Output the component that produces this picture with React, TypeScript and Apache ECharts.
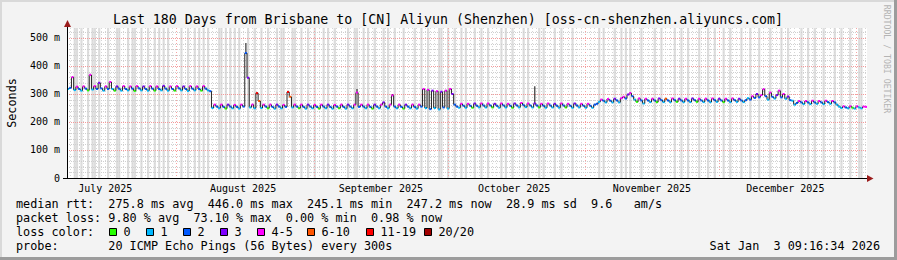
import React, { useEffect, useRef } from 'react';
import * as echarts from 'echarts';

// time axis: days since 2025-07-01 00:00; graph covers the last 180 days up to Sat Jan 3 09:16:34 2026
const T_START = 6.3865;
const SPAN_DAYS = 180;
const STEP_DAYS = 0.5; // 12h consolidation step
const Y_MAX = 535.7;

const LOSS_COLORS = ['#26ff00', '#00b8ff', '#0059ff', '#7e00ff', '#ff00ff', '#ff5500', '#ff0000', '#a10000'];
const LOSS_LABELS = ['0', '1', '2', '3', '4-5', '6-10', '11-19', '20/20'];

const monthStarts = [31, 62, 92, 123, 153, 184];
const monthLabelDays = [15, 46, 77, 107, 138, 168];
const monthLabels = ['July 2025', 'August 2025', 'September 2025', 'October 2025', 'November 2025', 'December 2025'];
const yMajor = [0, 100, 200, 300, 400, 500];
const yMinor = [20, 40, 60, 80, 120, 140, 160, 180, 220, 240, 260, 280, 320, 340, 360, 380, 420, 440, 460, 480, 520];

// median rtt (ms) per 12h step
const julMedian = [318, 322, 360, 314, 326, 318, 312, 327, 319, 313, 368, 316, 328, 318, 340, 320, 312, 327, 318, 343,
  318, 312, 327, 319, 312, 328, 318, 313, 327, 319, 311, 328, 320, 313, 327, 318, 312, 328, 319, 312,
  327, 318, 313, 329, 319, 312, 327, 318, 312, 328, 320, 313, 327, 318, 311, 328, 319, 313, 327, 318,
  312, 328, 319, 313, 310];
const julLoss = [1, 2, 4, 1, 4, 2, 1, 4, 2, 0, 4, 1, 4, 2, 3, 2, 1, 4, 2, 4, 1, 0, 3, 2, 1, 4, 2, 1, 4, 2,
  0, 4, 2, 1, 3, 2, 1, 4, 2, 0, 4, 2, 1, 3, 2, 1, 4, 2, 0, 4, 2, 1, 3, 2, 1, 4, 2, 1, 4, 2, 0, 4, 2, 1, 2];

const augMedian = [250, 262, 255, 249, 262, 254, 248, 262, 255, 249, 261, 254, 248, 262, 255, 446, 358, 252, 262, 249,
  303, 275, 250, 262, 255, 249, 262, 254, 248, 262, 255, 249, 261, 254, 307, 290, 252, 262, 255, 249,
  262, 254, 248, 262, 255, 249, 261, 254, 248, 262, 255, 249, 262, 254, 248, 261, 255, 249, 262, 254,
  248, 262, 255, 249, 262, 305, 254, 262, 255, 249, 262, 254, 248, 262, 255, 249, 262, 270, 255, 249,
  262, 295, 255, 249, 262, 254, 248, 262, 255, 249, 262, 254, 248, 262, 255];
const augLoss = [1, 4, 2, 1, 4, 2, 0, 3, 2, 1, 4, 2, 1, 4, 2, 2, 3, 1, 4, 1, 6, 5, 1, 4, 2, 0, 4, 2, 1, 3,
  2, 1, 4, 2, 6, 5, 1, 4, 2, 0, 4, 2, 1, 3, 2, 1, 4, 2, 0, 4, 2, 1, 3, 2, 1, 4, 2, 0, 4, 2,
  1, 3, 2, 1, 4, 4, 2, 4, 2, 1, 4, 2, 0, 3, 2, 1, 4, 3, 2, 1, 4, 4, 2, 1, 4, 2, 0, 3, 2, 1, 4, 2, 1, 4, 2];

const sepMedian = [318, 250, 315, 246, 312, 250, 310, 245, 308, 252, 312, 248, 318, 300, 262];
const sepLoss = [4, 1, 4, 2, 3, 1, 4, 1, 3, 2, 4, 1, 4, 3, 2];

const octMedian = [255, 251, 265, 258, 251, 265, 258, 251, 266, 258, 252, 266, 259, 252, 266, 259, 252, 265, 258, 251,
  266, 259, 252, 265, 258, 251, 266, 259, 252, 268, 260, 253, 266, 259, 252, 266, 259, 252, 265, 258,
  251, 266, 259, 252, 265, 258, 251, 266, 259, 252, 265, 258, 251, 266, 259, 252, 265, 258, 251, 265,
  258, 251, 262];
const octLoss = [2, 1, 4, 2, 1, 4, 2, 0, 3, 2, 1, 4, 2, 1, 4, 2, 0, 3, 2, 1, 4, 2, 1, 4, 2, 0, 3, 2, 1, 4,
  2, 1, 4, 2, 1, 3, 2, 0, 4, 2, 1, 4, 2, 1, 3, 2, 1, 4, 2, 0, 4, 2, 1, 3, 2, 1, 4, 2, 1, 4, 2, 1, 2];

const novMedian = [265, 272, 280, 276, 270, 282, 276, 270, 283, 277, 270, 285, 290, 284, 298, 303, 292, 280, 272, 284,
  277, 266, 283, 277, 271, 283, 277, 271, 284, 278, 271, 283, 277, 271, 284, 278, 272, 283, 277, 271,
  283, 277, 271, 284, 278, 272, 283, 277, 271, 283, 277, 271, 284, 278, 272, 283, 277, 271, 283, 277,
  271, 284, 278, 272, 283, 277, 271, 278];
const novLoss = [2, 1, 4, 2, 1, 4, 2, 1, 3, 2, 1, 4, 4, 2, 3, 4, 2, 1, 0, 4, 2, 1, 4, 2, 1, 4, 2, 0, 3, 2,
  1, 5, 2, 1, 4, 2, 0, 3, 2, 1, 4, 2, 1, 3, 2, 0, 4, 2, 1, 4, 2, 1, 4, 2, 1, 3, 2, 0, 4, 2,
  1, 4, 2, 1, 3, 2, 1, 2];

const decMedian = [285, 280, 292, 286, 300, 288, 296, 317, 292, 280, 305, 290, 284, 296, 312, 288, 300, 283, 291, 278,
  276, 262, 268, 275, 270, 264, 275, 270, 264, 276, 270, 265, 275, 270, 264, 276, 271, 265, 275, 270,
  262, 255, 250, 256, 252, 249, 256, 251, 248, 256, 252, 249, 255, 254];
const decLoss = [1, 2, 4, 2, 3, 2, 4, 4, 2, 1, 4, 2, 1, 3, 4, 2, 4, 1, 3, 2, 1, 1, 2, 4, 2, 1, 4, 2, 1, 4,
  2, 1, 4, 2, 1, 4, 2, 1, 4, 2, 1, 1, 1, 4, 2, 1, 4, 0, 1, 4, 1, 1, 4, 4];

// [step, top of smoke in ms] for the tall smoke spikes
const smokeTops = [[2, 362], [10, 372], [14, 342], [19, 345], [80, 482], [85, 306], [99, 312], [130, 318],
  [146, 300], [210, 328], [253, 306], [313, 320], [320, 314]];

// steps with packet loss shown as full-height grey bars
const lossBarSteps = [3, 4, 6, 9, 11, 12, 14, 18, 22, 23, 27, 29, 30, 33, 36, 39, 41, 43, 45, 51, 54, 57, 59, 61, 63,
  68, 69, 71, 73, 75, 77, 81, 84, 87, 90, 94, 96, 97, 101, 102, 105, 108, 111, 115, 117, 120, 126, 129, 130,
  133, 135, 138, 142, 144, 147, 151, 156, 159, 162, 167, 168, 171, 174, 177, 179, 183, 186, 189, 195, 197,
  200, 205, 207, 212, 214, 219, 222, 227, 239, 241, 246, 249, 251, 253, 258, 264, 267, 273, 276, 279, 284,
  288, 291, 295, 298, 303, 307, 311, 316, 321, 324, 330, 333, 336, 340, 345, 348, 352, 356, 357];

const legendLines = [
  'median rtt:  275.8 ms avg  446.0 ms max  245.1 ms min  247.2 ms now  28.9 ms sd  9.6   am/s',
  'packet loss: 9.80 % avg  73.10 % max  0.00 % min  0.98 % now',
];
const lossColorTitle = 'loss color:';
const probeLine = 'probe:       20 ICMP Echo Pings (56 Bytes) every 300s';
const dateLine = 'Sat Jan  3 09:16:34 2026';
const title = 'Last 180 Days from Brisbane to [CN] Aliyun (Shenzhen) [oss-cn-shenzhen.aliyuncs.com]';

const MONO = '"DejaVu Sans Mono", monospace';

function tokenTexts(line: string, x0: number, y: number, cw: number, size: number, fill = '#000') {
  const out: any[] = [];
  const re = /\S+/g;
  let m: RegExpExecArray | null;
  while ((m = re.exec(line))) {
    out.push({
      type: 'text', x: x0 + m.index * cw, y,
      style: { text: m[0], font: `${size}px ${MONO}`, fill, textAlign: 'left', textVerticalAlign: 'middle' },
    });
  }
  return out;
}

export default function App() {
  const ref = useRef<HTMLDivElement>(null);
  useEffect(() => {
    if (!ref.current) return;
    const chart = echarts.init(ref.current, undefined, { renderer: 'svg' });

    const median = [...julMedian, ...augMedian, ...sepMedian, ...octMedian, ...novMedian, ...decMedian];
    const loss = [...julLoss, ...augLoss, ...sepLoss, ...octLoss, ...novLoss, ...decLoss];
    const medianData = median.map((v, i) => [
      T_START + i * STEP_DAYS, T_START + (i + 1) * STEP_DAYS, v, i > 0 ? median[i - 1] : v, loss[i],
    ]);
    const smokeData = smokeTops.map(([s, top]) => [T_START + (s + 0.5) * STEP_DAYS, median[s], top]);
    const barData = lossBarSteps.map((s) => [T_START + s * STEP_DAYS, T_START + (s + 1) * STEP_DAYS]);

    const gridData: number[][] = [];
    for (let d = Math.ceil(T_START); d <= T_START + SPAN_DAYS; d++) {
      if (!monthStarts.includes(d)) gridData.push([0, d]);
    }
    monthStarts.forEach((d) => gridData.push([1, d]));
    yMinor.forEach((v) => gridData.push([2, v]));
    yMajor.filter((v) => v > 0).forEach((v) => gridData.push([3, v]));

    const graphic: any[] = [];
    // frame
    graphic.push({ type: 'rect', shape: { x: 0, y: 0, width: 897, height: 2 }, style: { fill: '#d9d9d9' }, z: 10 });
    graphic.push({ type: 'rect', shape: { x: 0, y: 0, width: 2, height: 260 }, style: { fill: '#d9d9d9' }, z: 10 });
    graphic.push({ type: 'rect', shape: { x: 0, y: 257, width: 897, height: 3 }, style: { fill: '#9c9c9c' }, z: 10 });
    graphic.push({ type: 'rect', shape: { x: 894, y: 0, width: 3, height: 260 }, style: { fill: '#9c9c9c' }, z: 10 });
    // title
    graphic.push({
      type: 'text', x: 448, y: 19,
      style: { text: title, font: `13.25px ${MONO}`, fill: '#000', textAlign: 'center', textVerticalAlign: 'middle' },
    });
    // y axis name
    graphic.push({
      type: 'text', x: 12, y: 103, rotation: Math.PI / 2,
      style: { text: 'Seconds', font: `11.8px ${MONO}`, fill: '#000', textAlign: 'center', textVerticalAlign: 'middle' },
    });
    // watermark
    graphic.push({
      type: 'text', x: 887, y: 59, rotation: -Math.PI / 2,
      style: { text: 'RRDTOOL / TOBI OETIKER', font: `8.2px ${MONO}`, fill: '#b4b4b4', textAlign: 'center', textVerticalAlign: 'middle' },
    });
    // axes lines + arrows
    graphic.push({ type: 'line', shape: { x1: 67.5, y1: 178, x2: 67.5, y2: 24 }, style: { stroke: '#000', lineWidth: 1 }, z: 20 });
    graphic.push({ type: 'line', shape: { x1: 63, y1: 178.5, x2: 869, y2: 178.5 }, style: { stroke: '#000', lineWidth: 1 }, z: 20 });
    graphic.push({ type: 'polygon', shape: { points: [[64, 27], [71, 27], [67.5, 20]] }, style: { fill: '#9b1c1c' }, z: 20 });
    graphic.push({ type: 'polygon', shape: { points: [[867, 175], [867, 182], [873.5, 178.5]] }, style: { fill: '#9b1c1c' }, z: 20 });
    // legend
    const CW = 7.1;
    graphic.push(...tokenTexts(legendLines[0], 16, 204, CW, 11.8));
    graphic.push(...tokenTexts(legendLines[1], 16, 218, CW, 11.8));
    graphic.push(...tokenTexts(lossColorTitle, 16, 232, CW, 11.8));
    const boxX = [109, 146, 183, 220, 257, 307, 366, 424];
    LOSS_LABELS.forEach((lab, i) => {
      graphic.push({ type: 'rect', shape: { x: boxX[i] + 0.5, y: 228.5, width: 7, height: 7 }, style: { fill: LOSS_COLORS[i], stroke: '#000', lineWidth: 1 } });
      graphic.push({ type: 'text', x: boxX[i] + 14.5, y: 232, style: { text: lab, font: `11.8px ${MONO}`, fill: '#000', textAlign: 'left', textVerticalAlign: 'middle' } });
    });
    graphic.push(...tokenTexts(probeLine, 16, 246, CW, 11.8));
    graphic.push(...tokenTexts(dateLine, 880 - dateLine.length * CW, 246, CW, 11.8));

    const option: any = {
      animation: false,
      backgroundColor: '#f3f3f3',
      grid: { left: 67, top: 28, width: 800, height: 150, show: true, backgroundColor: '#ffffff', borderWidth: 0 },
      xAxis: {
        type: 'value', min: T_START, max: T_START + SPAN_DAYS,
        axisLine: { show: false }, axisTick: { show: false }, splitLine: { show: false },
        axisLabel: {
          customValues: monthLabelDays,
          formatter: (v: number) => {
            const k = monthLabelDays.indexOf(Math.round(v));
            return k >= 0 ? monthLabels[k] : '';
          },
          fontFamily: 'DejaVu Sans Mono', fontSize: 10, color: '#000', margin: 5,
        },
      },
      yAxis: {
        type: 'value', min: 0, max: Y_MAX, interval: 100,
        axisLine: { show: false }, axisTick: { show: false }, splitLine: { show: false },
        axisLabel: {
          showMaxLabel: false,
          formatter: (v: number) => (v % 100 !== 0 ? '' : v === 0 ? '0' : `${v} m`),
          fontFamily: 'DejaVu Sans Mono', fontSize: 10, color: '#000', margin: 7,
        },
      },
      series: [
        {
          type: 'custom', name: 'loss bars', data: barData, encode: { x: [0, 1] }, silent: true, z: 1,
          renderItem: (_p: any, api: any) => {
            const a = api.coord([api.value(0), 0]);
            const b = api.coord([api.value(1), Y_MAX]);
            return { type: 'rect', shape: { x: a[0], y: b[1], width: b[0] - a[0], height: a[1] - b[1] }, style: { fill: '#dddddd' } };
          },
        },
        {
          type: 'custom', name: 'grid', data: gridData, silent: true, z: 2,
          renderItem: (_p: any, api: any) => {
            const kind = api.value(0);
            const val = api.value(1);
            if (kind <= 1) {
              const a = api.coord([val, 0]);
              const b = api.coord([val, Y_MAX]);
              const x = Math.round(a[0]) + 0.5;
              return { type: 'line', shape: { x1: x, y1: b[1], x2: x, y2: a[1] }, style: { stroke: kind === 1 ? '#f6a4a4' : '#d6d6d6', lineWidth: 1, lineDash: [1, 2] } };
            }
            const a = api.coord([T_START, val]);
            const b = api.coord([T_START + SPAN_DAYS, val]);
            const y = Math.round(a[1]) + 0.5;
            return { type: 'line', shape: { x1: a[0], y1: y, x2: b[0], y2: y }, style: { stroke: kind === 3 ? '#f39a9a' : '#cfcfcf', lineWidth: 1, lineDash: [1, 1] } };
          },
        },
        {
          type: 'custom', name: 'smoke', data: smokeData, silent: true, z: 3,
          renderItem: (_p: any, api: any) => {
            const a = api.coord([api.value(0), api.value(1)]);
            const b = api.coord([api.value(0), api.value(2)]);
            return { type: 'line', shape: { x1: a[0], y1: a[1], x2: b[0], y2: b[1] }, style: { stroke: '#333', lineWidth: 1.2 } };
          },
        },
        {
          type: 'custom', name: 'median rtt', data: medianData, encode: { x: [0, 1], y: 2 }, silent: true, z: 4,
          renderItem: (_p: any, api: any) => {
            const t0 = api.value(0), t1 = api.value(1), v = api.value(2), pv = api.value(3), l = api.value(4);
            const p0 = api.coord([t0, v]);
            const p1 = api.coord([t1, v]);
            const pp = api.coord([t0, pv]);
            return {
              type: 'group',
              children: [
                { type: 'line', shape: { x1: p0[0], y1: pp[1], x2: p0[0], y2: p0[1] }, style: { stroke: '#222', lineWidth: 1 } },
                { type: 'line', shape: { x1: p0[0], y1: p0[1], x2: p1[0], y2: p1[1] }, style: { stroke: LOSS_COLORS[l], lineWidth: 2 } },
              ],
            };
          },
        },
      ],
      graphic,
    };
    chart.setOption(option);
    return () => chart.dispose();
  }, []);
  return <div ref={ref} style={{ position: 'fixed', left: 0, top: 0, width: 897, height: 260 }} />;
}
